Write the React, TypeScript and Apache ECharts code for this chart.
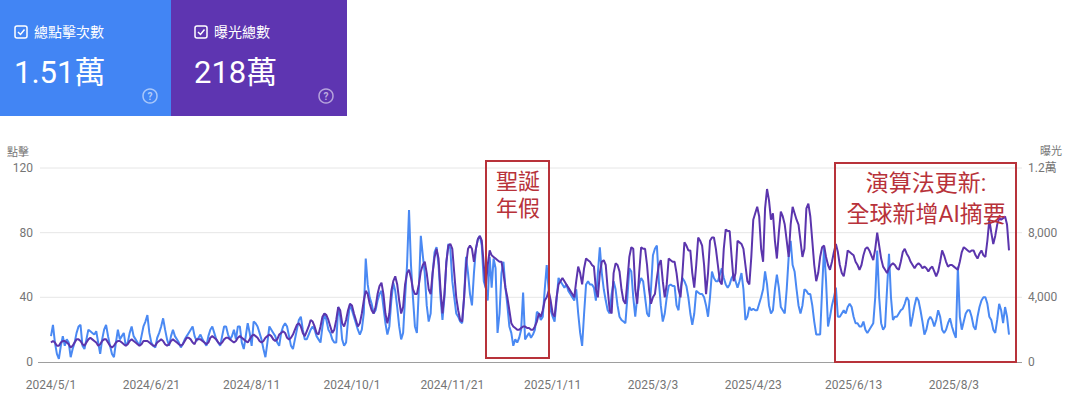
import React, { useEffect, useRef } from "react";
import * as echarts from "echarts";

const START_DATE = [2024, 5, 1];

// daily clicks (左軸 點擊), 2024/5/1 – 2025/8/31
const clicks = [
  16, 23, 12, 5, 2, 10,
  16, 10, 14, 12, 3, 8, 12,
  18, 22, 23, 10, 8, 14, 20,
  19, 18, 17, 19, 12, 5, 14,
  20, 23, 16, 10, 5, 3, 12,
  20, 14, 16, 18, 10, 12, 18,
  22, 16, 14, 12, 10, 16, 22,
  25, 29, 18, 12, 10, 9, 15,
  18, 22, 27, 20, 14, 10, 16,
  20, 16, 14, 12, 9, 11, 14,
  16, 18, 20, 22, 16, 13,
  15, 17, 14, 12, 10, 16, 20,
  22, 18, 14, 12, 10, 16, 22,
  22, 17, 14, 16, 20, 14, 22,
  22, 12, 8, 16, 24, 18, 10,
  25, 24, 22, 18, 14, 8, 3,
  12, 22, 20, 18, 16, 12, 10,
  18, 22, 24, 22, 16, 10, 8,
  14, 20, 26, 28, 20, 14, 14,
  17, 20, 22, 20, 16, 14, 12,
  22, 30, 26, 20, 18, 14, 12,
  12, 34, 28, 14, 10, 12,
  26, 36, 32, 28, 24, 20, 17,
  20, 30, 64, 48, 40, 36, 30,
  32, 38, 42, 44, 34, 24, 17,
  22, 38, 49, 44, 34, 22, 14,
  18, 40, 60, 94, 60, 40, 22,
  18, 45, 78, 66, 55, 35, 25,
  30, 55, 68, 71, 60, 40, 26,
  40, 62, 73, 70, 50, 40, 30,
  28, 25, 24, 40, 65, 55, 42,
  35, 55, 70, 76, 78, 72, 50,
  46, 38, 65, 46, 64, 58,
  18, 30, 55, 62, 46, 35, 22,
  18, 10, 14, 12, 15, 20, 43,
  14, 16, 18, 15, 17, 20, 31,
  30, 26, 28, 45, 60, 44, 32,
  28, 25, 38, 52, 50, 48, 46,
  48, 44, 42, 40, 38, 45, 30,
  18, 10, 30, 48, 50, 48, 48,
  46, 38, 55, 71, 55, 45, 38,
  32, 30, 42, 50, 45, 35, 28,
  26, 25, 24, 40, 58, 56, 40,
  28, 40, 48, 52, 50, 40,
  30, 28, 45, 66, 70, 72, 50,
  35, 25, 30, 40, 47, 48, 47,
  47, 35, 32, 45, 52, 50, 47,
  40, 30, 23, 30, 44, 43, 42,
  42, 40, 35, 28, 40, 56, 52,
  50, 50, 54, 58, 52, 48, 46,
  48, 52, 54, 50, 46, 50, 55,
  45, 26, 28, 34, 32, 33, 32,
  32, 36, 40, 45, 56, 48, 35,
  30, 32, 45, 54, 46, 34,
  32, 30, 45, 65, 75, 60, 56,
  45, 35, 30, 35, 45, 44, 42,
  42, 35, 25, 17, 17, 17, 45,
  71, 50, 22, 28, 35, 40, 46,
  28, 28, 30, 32, 30, 34, 36,
  34, 28, 24, 24, 22, 22, 25,
  20, 18, 20, 22, 24, 40, 69,
  40, 24, 20, 22, 45, 67, 40,
  26, 28, 28, 30, 32, 33, 36,
  40, 38, 22, 28, 35, 40, 38,
  32, 25, 17, 20, 26, 28,
  26, 22, 26, 32, 28, 20, 18,
  20, 24, 27, 22, 18, 15, 59,
  28, 20, 25, 30, 32, 32, 28,
  22, 20, 28, 34, 38, 40, 40,
  36, 28, 26, 20, 18, 26, 36,
  32, 24, 34, 28, 17,
];

// daily impressions (右軸 曝光)
const impressions = [
  1200, 1300, 1200, 1000, 1000, 1200,
  1300, 1300, 1200, 1100, 900, 1000, 1200,
  1400, 1400, 1300, 1100, 1000, 1200, 1400,
  1500, 1400, 1300, 1200, 1000, 1100, 1300,
  1400, 1400, 1200, 1000, 900, 1000, 1200,
  1300, 1300, 1200, 1100, 1000, 1100, 1300,
  1400, 1300, 1200, 1100, 1000, 1100, 1300,
  1300, 1300, 1200, 1100, 1000, 1000, 1200,
  1300, 1400, 1300, 1100, 1000, 1100, 1300,
  1400, 1300, 1200, 1100, 1000, 1100, 1300,
  1500, 1500, 1400, 1200, 1100, 1400,
  1400, 1400, 1300, 1200, 1100, 1200, 1500,
  1600, 1500, 1400, 1200, 1100, 1200, 1400,
  1500, 1500, 1400, 1300, 1200, 1300, 1500,
  1600, 1500, 1400, 1300, 1200, 1400, 1600,
  1700, 1600, 1500, 1300, 1200, 1300, 1500,
  1600, 1700, 1600, 1400, 1300, 1400, 1700,
  1800, 1900, 1800, 1500, 1400, 1500, 1700,
  2000, 2300, 2400, 2200, 1800, 1600, 1900,
  2200, 2600, 2500, 2200, 1800, 1700, 2200,
  2800, 3000, 2900, 2600, 2200, 1800, 2000,
  2600, 3400, 3200, 2400, 2200, 2600,
  3200, 3600, 3500, 3000, 2600, 2200, 2400,
  3000, 3800, 4400, 4200, 3600, 3200, 3000,
  3400, 4200, 4700, 4900, 4200, 3000, 2400,
  3000, 4400, 5000, 5300, 4800, 3800, 3000,
  3400, 4800, 5500, 5700, 5200, 4500, 4200,
  4200, 4800, 5600, 6000, 6200, 5500, 4500,
  4200, 5500, 6500, 7000, 6400, 4500, 3000,
  4200, 6200, 7200, 7300, 7000, 5500, 4000,
  3200, 2600, 2500, 4000, 6000, 7000, 7200,
  7000, 6200, 7000, 7600, 7800, 7500, 6000,
  4600, 6000, 6900, 6600, 6500, 6400,
  6300, 6200, 6200, 5500, 4600, 4000, 3200,
  2400, 2200, 2100, 2000, 2000, 2100, 2200,
  2200, 2100, 2100, 2000, 2000, 2200, 2500,
  3000, 2800, 3200, 3800, 4000, 4400, 3800,
  3000, 2800, 4000, 4800, 5000, 5200, 5000,
  4800, 4600, 4400, 4200, 4000, 5000, 5900,
  5500, 4800, 5800, 6400, 6300, 6200, 6000,
  5900, 4500, 4000, 5500, 6200, 6300, 6000,
  4500, 3200, 3000, 5500, 6100, 6000, 5600,
  4500, 3800, 3600, 5000, 6500, 7100, 7000,
  4500, 3600, 5500, 7100, 7000, 7000,
  6000, 4500, 3600, 4000, 4200, 5200, 6000,
  6300, 5000, 4000, 4800, 6400, 6300, 6200,
  6200, 5500, 4500, 4000, 5500, 7400, 7200,
  6900, 6900, 5500, 4600, 6000, 7700, 7500,
  7200, 6000, 4200, 5500, 7500, 7700, 7700,
  7000, 6000, 5000, 4800, 7000, 8200, 8100,
  8100, 6500, 5000, 5500, 7500, 7400, 7300,
  7000, 6000, 5000, 4800, 6500, 8800, 9200,
  9600, 9000, 7000, 6200, 9500, 10700, 10000,
  8800, 9200, 7500, 6400, 8000, 9300,
  9000, 8500, 7500, 6500, 8500, 9600, 9200,
  8800, 8500, 7500, 6500, 7000, 9500, 9800,
  9000, 7500, 6000, 5000, 5500, 6500, 7100,
  7200, 6500, 6000, 5700, 6200, 6800, 7300,
  6800, 6000, 5500, 5300, 6000, 6900, 6800,
  6700, 6600, 6200, 6000, 5700, 6000, 6600,
  7000, 7100, 6900, 6600, 6300, 7000, 8000,
  7200, 6400, 5900, 5700, 5500, 5800, 6000,
  6100, 6000, 5800, 5700, 6200, 6800, 7000,
  6700, 6500, 6200, 6000, 5800, 6000, 6100,
  6000, 5800, 5900, 5800, 5600, 5800,
  5900, 5600, 5300, 5600, 6200, 6900, 6600,
  6200, 5900, 6000, 6000, 5900, 5800, 5700,
  6200, 6800, 7100, 7000, 6900, 6800, 6900,
  6900, 6600, 6400, 6700, 6900, 6600, 6500,
  7500, 8800, 8000, 7300, 7800, 8500, 8900,
  8800, 8900, 9000, 8500, 6900,
];

const leftTicks = { min: 0, max: 120, interval: 40 };
const rightTicks = { min: 0, max: 12000, interval: 4000 };
const rightTickLabels: Record<number, string> = { 0: "0", 4000: "4,000", 8000: "8,000", 12000: "1.2萬" };
const dateLabelEvery = 51;

const cards = [
  { title: "總點擊次數", value: "1.51萬", color: "#4285f4" },
  { title: "曝光總數", value: "218萬", color: "#5e35b1" },
];

const notes = [
  { lines: ["聖誕", "年假"] },
  { lines: ["演算法更新:", "全球新增AI摘要"] },
];

function buildDates(n: number): string[] {
  const out: string[] = [];
  const d = new Date(START_DATE[0], START_DATE[1] - 1, START_DATE[2]);
  for (let i = 0; i < n; i++) {
    out.push(`${d.getFullYear()}/${d.getMonth() + 1}/${d.getDate()}`);
    d.setDate(d.getDate() + 1);
  }
  return out;
}

const FONT = "Roboto, 'Noto Sans CJK TC', 'Noto Sans', sans-serif";
const RED = "#b8323a";
const GRID_COLOR = "#e6e6e6";
const LABEL_COLOR = "#757575";

export default function App() {
  const ref = useRef<HTMLDivElement>(null);
  useEffect(() => {
    if (!ref.current) return;
    const chart = echarts.init(ref.current, undefined, { renderer: "svg" });
    const dates = buildDates(clicks.length);

    const cardGraphics: any[] = [];
    const cardX = [0, 171];
    const cardW = [171, 176];
    cards.forEach((c, i) => {
      const x0 = cardX[i];
      cardGraphics.push({ type: "rect", shape: { x: x0, y: 0, width: cardW[i], height: 116 }, style: { fill: c.color }, silent: true });
      const cbx = x0 + 15 + (i === 1 ? 9 : 0);
      cardGraphics.push({ type: "rect", shape: { x: cbx, y: 26, width: 12, height: 12, r: 2 }, style: { fill: "none", stroke: "#fff", lineWidth: 1.5 } });
      cardGraphics.push({ type: "polyline", shape: { points: [[cbx + 3, 32], [cbx + 5.5, 34.5], [cbx + 9.5, 29.5]] }, style: { fill: "none", stroke: "#fff", lineWidth: 1.5 } });
      cardGraphics.push({ type: "text", x: cbx + 19, y: 32, style: { text: c.title, fill: "#fff", font: `14px ${FONT}`, verticalAlign: "middle" } });
      cardGraphics.push({ type: "text", x: cbx - 1, y: 72, style: { text: c.value, fill: "#fff", font: `31px ${FONT}`, verticalAlign: "middle" } });
      const qx = x0 + cardW[i] - 21;
      cardGraphics.push({ type: "circle", shape: { cx: qx, cy: 96, r: 7 }, style: { fill: "none", stroke: "rgba(255,255,255,0.55)", lineWidth: 1.5 } });
      cardGraphics.push({ type: "text", x: qx, y: 96.5, style: { text: "?", fill: "rgba(255,255,255,0.6)", font: `bold 10px ${FONT}`, align: "center", verticalAlign: "middle" } });
    });

    const gridYs = [168, 232.7, 297.3];
    const gridGraphics: any[] = gridYs.map((y) => ({ type: "line", shape: { x1: 40, y1: y, x2: 1022, y2: y }, style: { stroke: GRID_COLOR, lineWidth: 1 }, z: 0, silent: true }));
    gridGraphics.push({ type: "line", shape: { x1: 38, y1: 362.5, x2: 1022, y2: 362.5 }, style: { stroke: "#9e9e9e", lineWidth: 1 }, z: 0, silent: true });

    const noteGraphics: any[] = [
      { type: "rect", shape: { x: 486, y: 161, width: 63, height: 197 }, style: { fill: "none", stroke: RED, lineWidth: 2 }, z: 100 },
      { type: "text", x: 518, y: 181, style: { text: notes[0].lines[0], fill: RED, font: `22px ${FONT}`, align: "center", verticalAlign: "middle" }, z: 100 },
      { type: "text", x: 518, y: 208, style: { text: notes[0].lines[1], fill: RED, font: `22px ${FONT}`, align: "center", verticalAlign: "middle" }, z: 100 },
      { type: "rect", shape: { x: 835, y: 163, width: 181, height: 199 }, style: { fill: "none", stroke: RED, lineWidth: 2 }, z: 100 },
      { type: "text", x: 926, y: 183, style: { text: notes[1].lines[0], fill: RED, font: `23px ${FONT}`, align: "center", verticalAlign: "middle" }, z: 100 },
      { type: "text", x: 926, y: 214, style: { text: notes[1].lines[1], fill: RED, font: `23px ${FONT}`, align: "center", verticalAlign: "middle" }, z: 100 },
      { type: "text", x: 7, y: 152, style: { text: "點擊", fill: LABEL_COLOR, font: `11px ${FONT}`, verticalAlign: "middle" } },
      { type: "text", x: 1040, y: 151, style: { text: "曝光", fill: LABEL_COLOR, font: `11px ${FONT}`, verticalAlign: "middle" } },
    ];

    chart.setOption({
      animation: false,
      textStyle: { fontFamily: FONT },
      grid: { left: 51, right: 65, top: 168, bottom: 46, containLabel: false },
      xAxis: {
        type: "category",
        data: dates,
        boundaryGap: false,
        axisLine: { show: false },
        axisTick: { show: false },
        splitLine: { show: false },
        axisLabel: { interval: dateLabelEvery - 1, color: LABEL_COLOR, fontSize: 12, margin: 17, fontFamily: FONT },
      },
      yAxis: [
        {
          type: "value",
          min: leftTicks.min,
          max: leftTicks.max,
          interval: leftTicks.interval,
          axisLine: { show: false },
          axisTick: { show: false },
          splitLine: { show: false },
          axisLabel: { color: LABEL_COLOR, fontSize: 12, margin: 18, fontFamily: FONT },
        },
        {
          type: "value",
          min: rightTicks.min,
          max: rightTicks.max,
          interval: rightTicks.interval,
          position: "right",
          axisLine: { show: false },
          axisTick: { show: false },
          splitLine: { show: false },
          axisLabel: { color: LABEL_COLOR, fontSize: 12, margin: 19, fontFamily: FONT, formatter: (v: number) => rightTickLabels[v] ?? String(v) },
        },
      ],
      series: [
        {
          name: "點擊",
          type: "line",
          data: clicks,
          yAxisIndex: 0,
          symbol: "none",
          lineStyle: { color: "#4a89f3", width: 2 },
          itemStyle: { color: "#4a89f3" },
          z: 3,
        },
        {
          name: "曝光",
          type: "line",
          data: impressions,
          yAxisIndex: 1,
          symbol: "none",
          lineStyle: { color: "#5b35ad", width: 2 },
          itemStyle: { color: "#5b35ad" },
          z: 4,
        },
      ],
      graphic: [...cardGraphics, ...gridGraphics, ...noteGraphics],
    });
    return () => chart.dispose();
  }, []);
  return <div ref={ref} style={{ position: "fixed", left: 0, top: 0, width: 1074, height: 408, background: "#fff" }} />;
}
